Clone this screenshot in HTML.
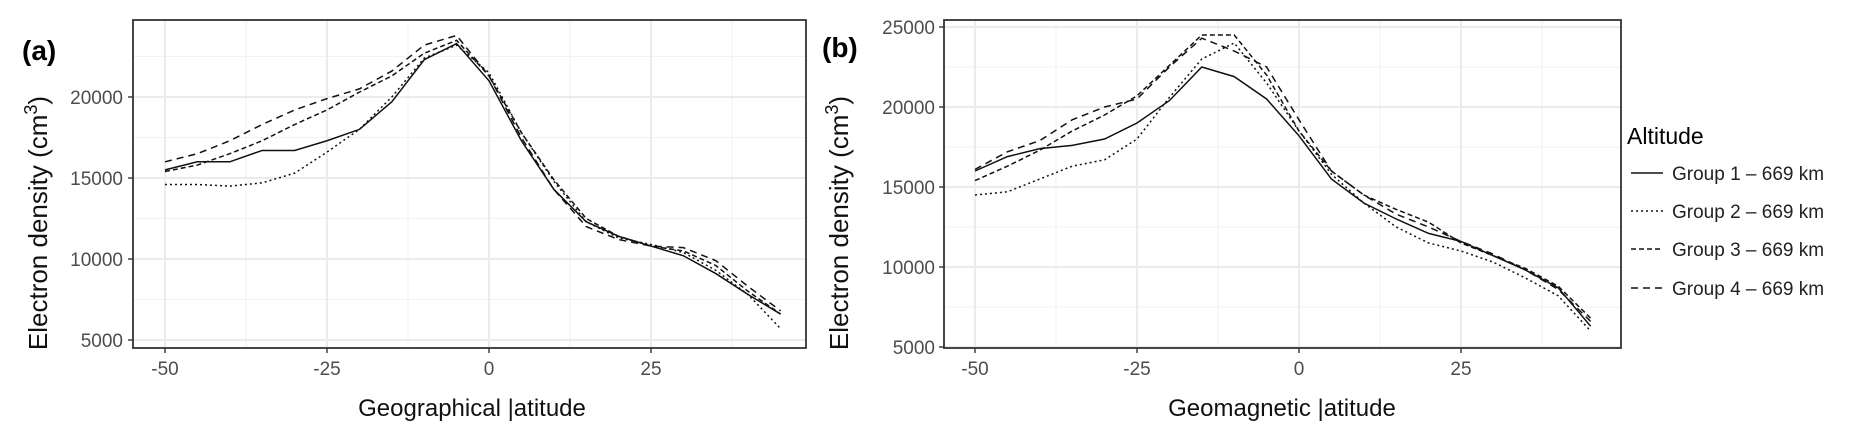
<!DOCTYPE html>
<html><head><meta charset="utf-8"><style>
html,body{margin:0;padding:0;background:#fff;}
svg{display:block;font-family:"Liberation Sans",Arial,sans-serif;}
.tk{fill:#4d4d4d;font-size:19px;}
.ttl{fill:#111;font-size:24px;}
.yt{fill:#111;font-size:26px;}
</style></head><body>
<svg width="1857" height="440" viewBox="0 0 1857 440" xmlns="http://www.w3.org/2000/svg">
<rect width="1857" height="440" fill="#fff"/>
<!-- Panel A grid -->
<g stroke="#f2f2f2" stroke-width="1">
<line x1="133" x2="806" y1="299.5" y2="299.5"/><line x1="133" x2="806" y1="218.5" y2="218.5"/><line x1="133" x2="806" y1="137.5" y2="137.5"/><line x1="133" x2="806" y1="56.5" y2="56.5"/>
<line x1="246" x2="246" y1="20" y2="348"/><line x1="408" x2="408" y1="20" y2="348"/><line x1="570" x2="570" y1="20" y2="348"/><line x1="732" x2="732" y1="20" y2="348"/>
</g>
<g stroke="#ebebeb" stroke-width="2">
<line x1="133" x2="806" y1="340" y2="340"/><line x1="133" x2="806" y1="259" y2="259"/><line x1="133" x2="806" y1="178" y2="178"/><line x1="133" x2="806" y1="97" y2="97"/>
<line x1="165" x2="165" y1="20" y2="348"/><line x1="327" x2="327" y1="20" y2="348"/><line x1="489" x2="489" y1="20" y2="348"/><line x1="651" x2="651" y1="20" y2="348"/>
</g>
<g transform="matrix(6.48 0 0 -0.0162 489 421)" fill="none" stroke="#111" stroke-width="1.5">
<polyline vector-effect="non-scaling-stroke" points="-50,15500 -45,16000 -40,16000 -35,16700 -30,16700 -25,17300 -20,18000 -15,19700 -10,22300 -5,23300 0,21000 5,17300 10,14300 15,12300 20,11400 25,10800 30,10200 35,9100 40,7800 45,6600"/>
<polyline vector-effect="non-scaling-stroke" stroke-dasharray="2,3" points="-50,14600 -45,14600 -40,14500 -35,14700 -30,15300 -25,16600 -20,18000 -15,20000 -10,22400 -5,23200 0,21500 5,17800 10,14800 15,12300 20,11300 25,10900 30,10400 35,9300 40,7800 45,5700"/>
<polyline vector-effect="non-scaling-stroke" stroke-dasharray="5,3" points="-50,15400 -45,15800 -40,16500 -35,17300 -30,18300 -25,19200 -20,20300 -15,21300 -10,22700 -5,23500 0,21300 5,17800 10,14900 15,12500 20,11400 25,10800 30,10500 35,9600 40,8000 45,6600"/>
<polyline vector-effect="non-scaling-stroke" stroke-dasharray="7,5" points="-50,16000 -45,16500 -40,17300 -35,18300 -30,19200 -25,19900 -20,20500 -15,21600 -10,23200 -5,23800 0,21300 5,17500 10,14300 15,12000 20,11200 25,10800 30,10700 35,9900 40,8300 45,6800"/>
</g>
<rect x="133" y="20" width="673" height="328" fill="none" stroke="#333" stroke-width="1.8"/>
<g stroke="#333" stroke-width="1.4">
<line x1="128" x2="133" y1="340" y2="340"/><line x1="128" x2="133" y1="259" y2="259"/><line x1="128" x2="133" y1="178" y2="178"/><line x1="128" x2="133" y1="97" y2="97"/>
<line x1="165" x2="165" y1="348" y2="353"/><line x1="327" x2="327" y1="348" y2="353"/><line x1="489" x2="489" y1="348" y2="353"/><line x1="651" x2="651" y1="348" y2="353"/>
</g>
<g class="tk" text-anchor="end">
<text x="123" y="347">5000</text><text x="123" y="266">10000</text><text x="123" y="185">15000</text><text x="123" y="104">20000</text>
</g>
<g class="tk" text-anchor="middle">
<text x="165" y="375">-50</text><text x="327" y="375">-25</text><text x="489" y="375">0</text><text x="651" y="375">25</text>
</g>
<text class="ttl" x="472" y="416" text-anchor="middle">Geographical |atitude</text>
<text class="yt" transform="translate(47,223) rotate(-90)" text-anchor="middle">Electron density (cm<tspan dy="-10" font-size="18">3</tspan><tspan dy="10">)</tspan></text>
<text x="22" y="60" font-size="28" font-weight="bold" fill="#000">(a)</text>

<!-- Panel B grid -->
<g stroke="#f2f2f2" stroke-width="1">
<line x1="944" x2="1621" y1="307" y2="307"/><line x1="944" x2="1621" y1="227" y2="227"/><line x1="944" x2="1621" y1="147" y2="147"/><line x1="944" x2="1621" y1="67" y2="67"/>
<line x1="1056" x2="1056" y1="20" y2="348"/><line x1="1218" x2="1218" y1="20" y2="348"/><line x1="1380" x2="1380" y1="20" y2="348"/><line x1="1542" x2="1542" y1="20" y2="348"/>
</g>
<g stroke="#ebebeb" stroke-width="2">
<line x1="944" x2="1621" y1="347" y2="347"/><line x1="944" x2="1621" y1="267" y2="267"/><line x1="944" x2="1621" y1="187" y2="187"/><line x1="944" x2="1621" y1="107" y2="107"/><line x1="944" x2="1621" y1="27" y2="27"/>
<line x1="975" x2="975" y1="20" y2="348"/><line x1="1137" x2="1137" y1="20" y2="348"/><line x1="1299" x2="1299" y1="20" y2="348"/><line x1="1461" x2="1461" y1="20" y2="348"/>
</g>
<g transform="matrix(6.48 0 0 -0.016 1299 427)" fill="none" stroke="#111" stroke-width="1.5">
<polyline vector-effect="non-scaling-stroke" points="-50,16000 -45,16900 -40,17400 -35,17600 -30,18000 -25,19000 -20,20400 -15,22500 -10,21900 -5,20500 0,18200 5,15500 10,14000 15,13000 20,12100 25,11600 30,10700 35,9800 40,8700 45,6300"/>
<polyline vector-effect="non-scaling-stroke" stroke-dasharray="2,3" points="-50,14500 -45,14700 -40,15500 -35,16300 -30,16700 -25,18000 -20,20600 -15,23000 -10,24000 -5,21500 0,18500 5,15800 10,14000 15,12500 20,11500 25,11000 30,10300 35,9300 40,8200 45,6000"/>
<polyline vector-effect="non-scaling-stroke" stroke-dasharray="5,3" points="-50,15400 -45,16300 -40,17300 -35,18500 -30,19500 -25,20700 -20,22600 -15,24500 -10,24500 -5,22000 0,18500 5,16000 10,14500 15,13600 20,12800 25,11500 30,10700 35,9900 40,8800 45,6800"/>
<polyline vector-effect="non-scaling-stroke" stroke-dasharray="7,5" points="-50,16100 -45,17200 -40,17900 -35,19200 -30,20000 -25,20500 -20,22500 -15,24300 -10,23500 -5,22500 0,19200 5,16000 10,14500 15,13300 20,12500 25,11600 30,10800 35,9800 40,8600 45,6600"/>
</g>
<rect x="944" y="20" width="677" height="328" fill="none" stroke="#333" stroke-width="1.8"/>
<g stroke="#333" stroke-width="1.4">
<line x1="939" x2="944" y1="347" y2="347"/><line x1="939" x2="944" y1="267" y2="267"/><line x1="939" x2="944" y1="187" y2="187"/><line x1="939" x2="944" y1="107" y2="107"/><line x1="939" x2="944" y1="27" y2="27"/>
<line x1="975" x2="975" y1="348" y2="353"/><line x1="1137" x2="1137" y1="348" y2="353"/><line x1="1299" x2="1299" y1="348" y2="353"/><line x1="1461" x2="1461" y1="348" y2="353"/>
</g>
<g class="tk" text-anchor="end">
<text x="935" y="354">5000</text><text x="935" y="274">10000</text><text x="935" y="194">15000</text><text x="935" y="114">20000</text><text x="935" y="34">25000</text>
</g>
<g class="tk" text-anchor="middle">
<text x="975" y="375">-50</text><text x="1137" y="375">-25</text><text x="1299" y="375">0</text><text x="1461" y="375">25</text>
</g>
<text class="ttl" x="1282" y="416" text-anchor="middle">Geomagnetic |atitude</text>
<text class="yt" transform="translate(848,223) rotate(-90)" text-anchor="middle">Electron density (cm<tspan dy="-10" font-size="18">3</tspan><tspan dy="10">)</tspan></text>
<text x="822" y="57" font-size="28" font-weight="bold" fill="#000">(b)</text>

<!-- Legend -->
<text x="1627" y="144" font-size="23" fill="#000">Altitude</text>
<g stroke="#111" stroke-width="1.5">
<line x1="1631" x2="1663" y1="173" y2="173"/>
<line x1="1631" x2="1663" y1="211" y2="211" stroke-dasharray="2,3"/>
<line x1="1631" x2="1663" y1="249" y2="249" stroke-dasharray="5,3"/>
<line x1="1631" x2="1663" y1="288" y2="288" stroke-dasharray="7,5"/>
</g>
<g font-size="19" fill="#222">
<text x="1672" y="180">Group 1 – 669 km</text>
<text x="1672" y="218">Group 2 – 669 km</text>
<text x="1672" y="256">Group 3 – 669 km</text>
<text x="1672" y="295">Group 4 – 669 km</text>
</g>
</svg>
</body></html>
